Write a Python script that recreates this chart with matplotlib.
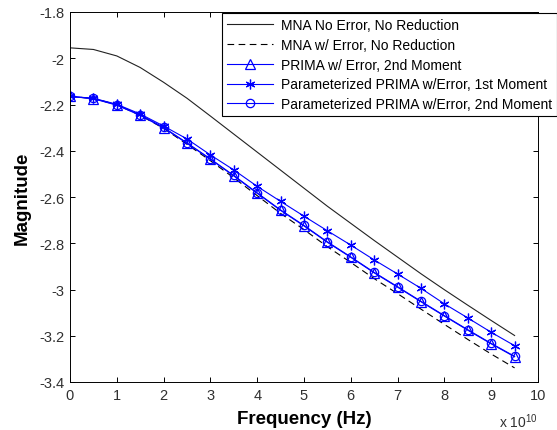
import matplotlib
matplotlib.use("Agg")
import matplotlib.pyplot as plt
import numpy as np

plt.rcParams['font.family'] = ['Liberation Sans', 'DejaVu Sans']
plt.rcParams['mathtext.default'] = 'regular'

# frequency points, in units of 1e10 Hz
freq = [0, 0.5, 1, 1.5, 2, 2.5, 3, 3.5, 4, 4.5, 5, 5.5, 6, 6.5, 7, 7.5, 8, 8.5, 9, 9.5]

mna_no_err = [-1.955, -1.962, -1.990, -2.040, -2.104, -2.173, -2.250, -2.328, -2.406, -2.484,
              -2.562, -2.640, -2.714, -2.788, -2.860, -2.932, -3.001, -3.068, -3.134, -3.199]
mna_err = [-2.165, -2.174, -2.201, -2.247, -2.303, -2.372, -2.443, -2.517, -2.594, -2.671,
           -2.741, -2.815, -2.883, -2.953, -3.018, -3.085, -3.151, -3.216, -3.279, -3.339]
prima_2nd = [-2.165, -2.175, -2.203, -2.247, -2.301, -2.368, -2.437, -2.509, -2.584, -2.658,
             -2.725, -2.796, -2.861, -2.928, -2.990, -3.053, -3.115, -3.176, -3.235, -3.291]
pprima_1st = [-2.165, -2.173, -2.199, -2.241, -2.293, -2.349, -2.418, -2.483, -2.554, -2.619,
              -2.683, -2.746, -2.808, -2.872, -2.933, -2.995, -3.062, -3.123, -3.185, -3.243]
pprima_2nd = [-2.165, -2.174, -2.201, -2.245, -2.299, -2.366, -2.435, -2.507, -2.582, -2.656,
              -2.723, -2.794, -2.859, -2.926, -2.988, -3.051, -3.113, -3.174, -3.233, -3.289]

labels = ["MNA No Error, No Reduction",
          "MNA w/ Error, No Reduction",
          "PRIMA w/ Error, 2nd Moment",
          "Parameterized PRIMA w/Error, 1st Moment",
          "Parameterized PRIMA w/Error, 2nd Moment"]

fig = plt.figure(figsize=(5.57, 4.31), dpi=100)
ax = fig.add_axes([70/557, 1-383/431, 468/557, 370/431])

blue = (0, 0, 1)
ax.plot(freq, mna_no_err, color='#222222', lw=0.8, label=labels[0])
ax.plot(freq, mna_err, color='black', lw=0.8, ls=(0, (6, 4)), label=labels[1])
ax.plot(freq, prima_2nd, color=blue, lw=0.8, marker='^', ms=6.5, mfc='none', mew=0.9, label=labels[2])
ax.plot(freq, pprima_1st, color=blue, lw=0.8, marker=(6, 2, 0), ms=7, mew=0.9, label=labels[3])
ax.plot(freq, pprima_2nd, color=blue, lw=0.8, marker='o', ms=6, mfc='none', mew=0.9, label=labels[4])

ax.set_xlim(0, 10)
ax.set_ylim(-3.4, -1.8)
ax.set_xticks(np.arange(0, 11, 1))
ax.set_yticks([-3.4, -3.2, -3.0, -2.8, -2.6, -2.4, -2.2, -2.0, -1.8])
ax.set_yticklabels(['-3.4', '-3.2', '-3', '-2.8', '-2.6', '-2.4', '-2.2', '-2', '-1.8'])
ax.tick_params(direction='in', length=3.5, width=0.7, top=True, right=True,
               labelsize=10.5, labelcolor='#303030', pad=4)
for s in ax.spines.values():
    s.set_linewidth(0.7)

ax.set_xlabel('Frequency (Hz)', fontsize=13.5, fontweight='bold', labelpad=6)
ax.set_ylabel('Magnitude', fontsize=13.5, fontweight='bold', labelpad=6)
ax.text(1.0, -0.08, r'x 10$^{10}$', transform=ax.transAxes, ha='right', va='top',
        fontsize=10, color='#303030')

leg = ax.legend(loc='upper right', bbox_to_anchor=(1.0, 1-14/431), bbox_transform=fig.transFigure,
                borderaxespad=0, fontsize=10, fancybox=False, framealpha=1, edgecolor='black',
                handlelength=3.3, handletextpad=0.6, labelspacing=0.42, borderpad=0.35)
leg.get_frame().set_linewidth(0.8)

fig.savefig('out.png', dpi=100)
